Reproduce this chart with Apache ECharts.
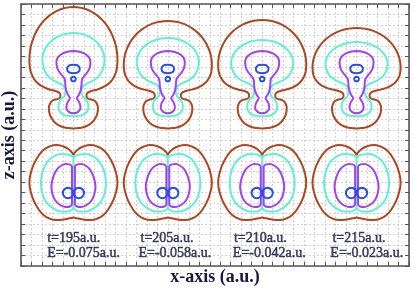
<!DOCTYPE html>
<html><head><meta charset="utf-8">
<script src="https://cdn.jsdelivr.net/npm/echarts@6/dist/echarts.min.js"></script>
<style>html,body{margin:0;padding:0;background:#fff}#c{width:415px;height:289px}</style>
</head><body><div id="c"></div>
<script>
// ---- data (axis units, a.u.) ----
const panelCenters = [5, 14, 23, 32];
const timeLabels = ['t=195a.u.', 't=205a.u.', 't=210a.u.', 't=215a.u.'];
const energyLabels = ['E=-0.075a.u.', 'E=-0.058a.u.', 'E=-0.042a.u.', 'E=-0.023a.u.'];
const timeLabelX = [2.5, 11.4, 20.3, 29.7];
const energyLabelX = [2.5, 11.2, 20.2, 29.5];
const timeLabelY = 2.67;
const energyLabelY = 1.24;
// top of upper-lobe contours in the upper row, per panel
const outerTop = [24.71, 23.38, 23.47, 22.71];
const middleTop = [22.23, 21.76, 21.56, 21.37];

// upper row contours: right half, from the axis at the top down to the axis at the bottom (dx, z)
const upperOuter = [[0,24.71],[0.76,24.63],[1.53,24.37],[2.29,23.89],[2.86,23.36],[3.34,22.72],[3.72,21.99],[4.01,21.16],[4.15,20.42],[4.20,19.66],[4.15,18.89],[3.91,18.13],[3.53,17.56],[2.96,17.13],[2.29,16.84],[1.72,16.70],[1.29,16.46],[1.24,16.22],[1.38,15.98],[1.72,15.89],[2.05,15.74],[2.24,15.46],[2.34,15.08],[2.29,14.60],[2.10,14.12],[1.72,13.65],[1.14,13.31],[0.57,13.17],[0,13.12]];
const upperMiddle = [[0,22.23],[0.76,22.15],[1.43,21.91],[2.00,21.56],[2.48,21.06],[2.77,20.56],[2.91,20.13],[2.96,19.66],[2.86,18.99],[2.57,18.32],[2.10,17.84],[1.53,17.51],[1.05,17.27],[0.81,16.98],[0.76,16.60],[0.86,16.22],[1.14,15.94],[1.38,15.55],[1.43,15.17],[1.34,14.79],[1.05,14.50],[0.57,14.33],[0,14.28]];
const upperInner = [[0,20.52],[0.57,20.45],[1.05,20.27],[1.34,20.06],[1.53,19.82],[1.62,19.47],[1.57,18.99],[1.34,18.51],[1.00,18.08],[0.81,17.75],[0.76,17.18],[0.67,16.70],[0.48,16.27],[0.33,16.03],[0.48,15.74],[0.62,15.46],[0.67,15.08],[0.52,14.79],[0.29,14.62],[0,14.57]];
const upperCoreA = [[0,19.20],[0.29,19.17],[0.50,19.05],[0.60,18.85],[0.55,18.60],[0.33,18.44],[0,18.40]];
const upperCoreB = [[0,18.06],[0.16,18.00],[0.22,17.84],[0.16,17.68],[0,17.62]];

// lower row contours
const lowerOuter = [[0,10.59],[0.19,10.88],[0.48,11.16],[0.95,11.40],[1.62,11.55],[2.29,11.40],[2.86,11.07],[3.34,10.50],[3.72,9.83],[4.01,9.06],[4.20,7.97],[4.01,6.87],[3.72,6.11],[3.34,5.44],[2.86,4.87],[2.29,4.53],[1.62,4.39],[0.95,4.44],[0.48,4.53],[0.19,4.58],[0,4.63]];
const lowerMiddle = [[0,10.31],[0.19,10.50],[0.57,10.64],[1.14,10.69],[1.72,10.54],[2.29,10.16],[2.72,9.54],[3.00,8.78],[3.10,7.92],[3.00,7.06],[2.72,6.30],[2.29,5.77],[1.72,5.39],[1.14,5.20],[0.57,5.20],[0.19,5.34],[0,5.49]];
const lowerInnerLoop = [[0.14,9.54],[0.38,9.70],[0.76,9.73],[1.14,9.59],[1.53,9.26],[1.86,8.68],[2.05,8.02],[2.10,7.54],[2.00,6.87],[1.76,6.30],[1.34,5.87],[0.76,5.63],[0.33,5.68],[0.14,5.92],[0.14,7.73],[0.14,9.54]];
const lowerCoreLoop = [[0.51,7.47],[0.86,7.32],[1.01,6.97],[0.86,6.62],[0.51,6.47],[0.16,6.62],[0.01,6.97],[0.16,7.32],[0.51,7.47]];

const colors = {outer:'#b0461f', middle:'#5ff2d2', inner:'#a640f2', core:'#2a4cf2'};

function mirrorClosed(right){
  const left = right.slice(1, -1).reverse().map(p => [-p[0], p[1]]);
  return right.concat(left, [right[0]]);
}
function stretch(pts, pivot, refTop, newTop){
  const s = (newTop - pivot) / (refTop - pivot);
  return pts.map(p => p[1] > pivot ? [p[0], pivot + (p[1] - pivot) * s] : p);
}
function shift(pts, cx){ return pts.map(p => [cx + p[0], p[1]]); }
function flipX(pts){ return pts.map(p => [-p[0], p[1]]); }

const series = [];
function addLine(data, color, smooth){
  series.push({type:'line', data, showSymbol:false, smooth: smooth === undefined ? 0.5 : smooth, silent:true,
    lineStyle:{color, width:2}, animation:false, z:3});
}
panelCenters.forEach((cx, i) => {
  addLine(shift(mirrorClosed(stretch(upperOuter, 16.79, 24.71, outerTop[i])), cx), colors.outer);
  addLine(shift(mirrorClosed(stretch(upperMiddle, 17.51, 22.23, middleTop[i])), cx), colors.middle);
  addLine(shift(mirrorClosed(upperInner), cx), colors.inner);
  addLine(shift(mirrorClosed(upperCoreA), cx), colors.core);
  addLine(shift(mirrorClosed(upperCoreB), cx), colors.core);

  addLine(shift(mirrorClosed(lowerOuter), cx), colors.outer);
  addLine(shift(mirrorClosed(lowerMiddle), cx), colors.middle);
  addLine(shift([[0,10.31],[0,5.49]], cx), colors.middle, false);
  addLine(shift(lowerInnerLoop, cx), colors.inner, 0.3);
  addLine(shift(flipX(lowerInnerLoop), cx), colors.inner, 0.3);
  addLine(shift(lowerCoreLoop, cx), colors.core);
  addLine(shift(flipX(lowerCoreLoop), cx), colors.core);
});

const textColor = '#16163f';
const labelData = [];
panelCenters.forEach((cx, i) => {
  labelData.push([timeLabelX[i], timeLabelY, timeLabels[i]]);
  labelData.push([energyLabelX[i], energyLabelY, energyLabels[i]]);
});
series.push({type:'scatter', data:labelData, symbolSize:0, silent:true, animation:false, z:5,
  label:{show:true, position:[0,0], align:'left', verticalAlign:'middle',
    formatter:p => p.data[2], fontFamily:'Liberation Serif', fontSize:14, color:textColor,
    textBorderColor:textColor, textBorderWidth:0.5}});

const axisLine = {show:true, onZero:false, lineStyle:{color:'#555555', width:1.6}};
const axisTick = {show:true, inside:true, length:4, lineStyle:{color:'#555555', width:1}};
const nameStyle = {fontFamily:'Liberation Serif', fontWeight:'bold', fontSize:18, color:textColor};
const split = {show:true, lineStyle:{color:'#d2d2d2', type:[2,2], width:1}};

const option = {
  animation:false,
  grid:{left:21, right:6, top:4, bottom:23, containLabel:false, outerBoundsMode:'none'},
  xAxis:[
    {type:'value', min:0, max:37, interval:1, position:'bottom', axisLine, axisTick, axisLabel:{show:false}, splitLine:split,
     name:'x-axis (a.u.)', nameLocation:'middle', nameGap:2, nameTextStyle:nameStyle},
    {type:'value', min:0, max:37, interval:1, position:'top', axisLine, axisTick, axisLabel:{show:false}, splitLine:{show:false}}
  ],
  yAxis:[
    {type:'value', min:0, max:25, interval:1, position:'left', axisLine, axisTick, axisLabel:{show:false}, splitLine:split,
     name:'z-axis (a.u.)', nameLocation:'middle', nameGap:3, nameRotate:90, nameTextStyle:nameStyle},
    {type:'value', min:0, max:25, interval:1, position:'right', axisLine, axisTick, axisLabel:{show:false}, splitLine:{show:false}}
  ],
  series
};
echarts.init(document.getElementById('c'), null, {renderer:'canvas'}).setOption(option);
</script>
</body></html>
